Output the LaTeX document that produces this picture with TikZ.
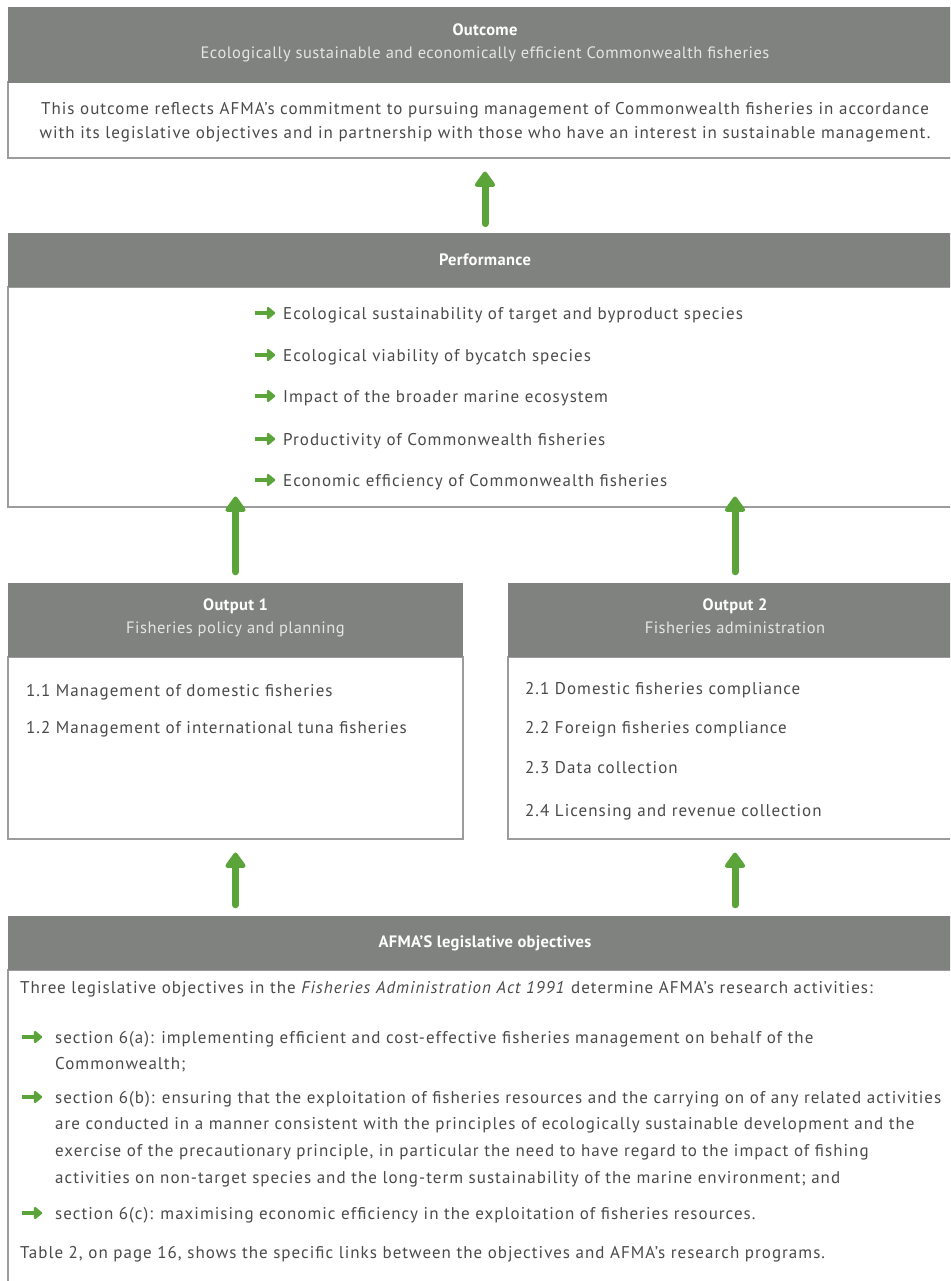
\documentclass[tikz,border=0pt]{standalone}
\usepackage{fontspec}
\setmainfont{PT Sans}[LetterSpace=6]
\newfontfamily\hdrbold{PT Sans Bold}[LetterSpace=2]
\newfontfamily\hdrsub{PT Sans}[LetterSpace=3]
\usetikzlibrary{arrows.meta}
\definecolor{hdrgray}{HTML}{7F827E}
\definecolor{brd}{HTML}{9C9C9C}
\definecolor{txt}{HTML}{4A4A4A}
\definecolor{grn}{HTML}{5AA43A}
\definecolor{subw}{HTML}{E4E6E3}
\newcommand{\garrow}{\tikz[baseline=-0.5ex]\draw[grn, line width=4pt, -{Triangle[width=14pt,length=9pt,round]}] (0,0) -- (20pt,0);}
\tikzset{
  hdr/.style={fill=hdrgray, draw=none, text=white, align=center, inner sep=0pt,
              font=\fontsize{16.5}{23}\selectfont},
  bodybox/.style={draw=brd, line width=1.2pt, fill=white, inner sep=0pt},
  txtn/.style={text=txt, inner sep=0pt, font=\fontsize{17}{24}\selectfont},
  bigarrow/.style={grn, line width=7pt, line cap=round, -{Triangle[width=23pt,length=17pt,round]}},
  bul/.style={inner sep=0pt, anchor=west}
}
\begin{document}
\begin{tikzpicture}[x=1pt,y=-1pt]
\useasboundingbox (0,0) rectangle (950,1281);
\clip (0,0) rectangle (950,1281);
\fill[white] (0,0) rectangle (950,1281);

% Outcome
\node[bodybox, minimum width=954pt, minimum height=76pt] (outbody) at (485,120) {};
\node[hdr, minimum width=954pt, minimum height=76pt] (outhead) at (485,45)
  {{\hdrbold Outcome}\\\color{subw}\hdrsub\strut Ecologically sustainable and economically efficient Commonwealth fisheries};
\node[txtn, align=center] (outtxt) at (485,122)
  {This outcome reflects AFMA’s commitment to pursuing management of Commonwealth fisheries in accordance\\
   with its legislative objectives and in partnership with those who have an interest in sustainable management.};

% Performance
\node[bodybox, minimum width=954pt, minimum height=220pt] (perfbody) at (485,397) {};
\node[hdr, minimum width=954pt, minimum height=54pt] (perfhead) at (485,260) {\hdrbold Performance};
\node[txtn, anchor=base west] (p1) at (283,319) {Ecological sustainability of target and byproduct species};
\node[txtn, anchor=base west] (p2) at (283,361) {Ecological viability of bycatch species};
\node[txtn, anchor=base west] (p3) at (283,402) {Impact of the broader marine ecosystem};
\node[txtn, anchor=base west] (p4) at (283,445) {Productivity of Commonwealth fisheries};
\node[txtn, anchor=base west] (p5) at (283,486) {Economic efficiency of Commonwealth fisheries};
\foreach \n/\yy in {b1/313,b2/355,b3/396,b4/439,b5/480}
  \node[bul] (\n) at (253,\yy) {\garrow};

% Output 1
\node[bodybox, minimum width=455pt, minimum height=182pt] (o1body) at (235.5,748) {};
\node[hdr, minimum width=455pt, minimum height=74pt] (o1head) at (235.5,620)
  {{\hdrbold Output 1}\\\color{subw}\hdrsub\strut Fisheries policy and planning};
\node[txtn, anchor=base west] (o11) at (26,696) {1.1 Management of domestic fisheries};
\node[txtn, anchor=base west] (o12) at (26,733) {1.2 Management of international tuna fisheries};

% Output 2
\node[bodybox, minimum width=454pt, minimum height=182pt] (o2body) at (735,748) {};
\node[hdr, minimum width=454pt, minimum height=74pt] (o2head) at (735,620)
  {{\hdrbold Output 2}\\\color{subw}\hdrsub\strut Fisheries administration};
\node[txtn, anchor=base west] (o21) at (525,694) {2.1 Domestic fisheries compliance};
\node[txtn, anchor=base west] (o22) at (525,733) {2.2 Foreign fisheries compliance};
\node[txtn, anchor=base west] (o23) at (525,773) {2.3 Data collection};
\node[txtn, anchor=base west] (o24) at (525,816) {2.4 Licensing and revenue collection};

% AFMA legislative objectives
\node[bodybox, minimum width=954pt, minimum height=330pt] (afbody) at (485,1135) {};
\node[hdr, minimum width=954pt, minimum height=54pt] (afhead) at (485,943) {\hdrbold AFMA’S legislative objectives};
\node[txtn, anchor=base west] (a0) at (20,993) {Three legislative objectives in the \textit{Fisheries Administration Act 1991} determine AFMA’s research activities:};
\node[bul] (ab1) at (20,1037) {\garrow};
\node[txtn, anchor=base west] (a1a) at (55,1043) {section 6(a): implementing efficient and cost-effective fisheries management on behalf of the};
\node[txtn, anchor=base west] (a1b) at (55,1069) {Commonwealth;};
\node[bul] (ab2) at (20,1097) {\garrow};
\node[txtn, anchor=base west] (a2a) at (55,1103) {section 6(b): ensuring that the exploitation of fisheries resources and the carrying on of any related activities};
\node[txtn, anchor=base west] (a2b) at (55,1129) {are conducted in a manner consistent with the principles of ecologically sustainable development and the};
\node[txtn, anchor=base west] (a2c) at (55,1156) {exercise of the precautionary principle, in particular the need to have regard to the impact of fishing};
\node[txtn, anchor=base west] (a2d) at (55,1183) {activities on non-target species and the long-term sustainability of the marine environment; and};
\node[bul] (ab3) at (20,1213) {\garrow};
\node[txtn, anchor=base west] (a3) at (55,1219) {section 6(c): maximising economic efficiency in the exploitation of fisheries resources.};
\node[txtn, anchor=base west] (a4) at (20,1258) {Table 2, on page 16, shows the specific links between the objectives and AFMA’s research programs.};

% Big arrows
\draw[bigarrow] ([yshift=-65pt]outbody.south) -- ([yshift=-13pt]outbody.south);
\draw[bigarrow] ([yshift=11pt]o1head.north) -- ([yshift=11pt]o1head.north |- perfbody.south);
\draw[bigarrow] ([yshift=11pt]o2head.north) -- ([yshift=11pt]o2head.north |- perfbody.south);
\draw[bigarrow] ([yshift=11pt]afhead.north -| o1body.south) -- ([yshift=-13pt]o1body.south);
\draw[bigarrow] ([yshift=11pt]afhead.north -| o2body.south) -- ([yshift=-13pt]o2body.south);
\end{tikzpicture}
\end{document}
